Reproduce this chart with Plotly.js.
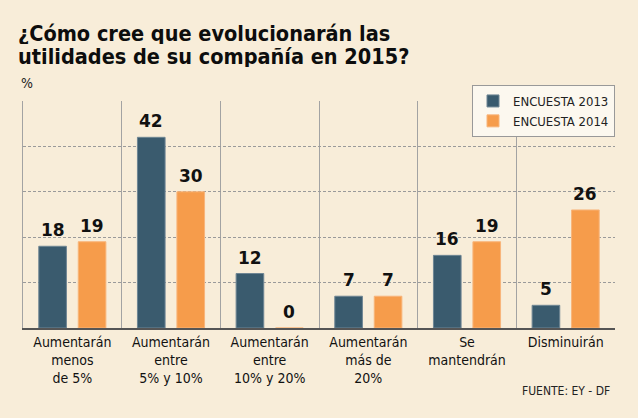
<!DOCTYPE html>
<html>
<head>
<meta charset="utf-8">
<script src="https://cdn.plot.ly/plotly-3.0.1.min.js"></script>
<style>
html,body{margin:0;padding:0;background:#f8edd9;}
#chart{width:638px;height:418px;}
</style>
</head>
<body>
<div id="chart"></div>
<script>
const categories = [
  "Aumentarán<br>menos<br>de 5%",
  "Aumentarán<br>entre<br>5% y 10%",
  "Aumentarán<br>entre<br>10% y 20%",
  "Aumentarán<br>más de<br>20%",
  "Se<br>mantendrán",
  "Disminuirán"
];
const encuesta2013 = [18, 42, 12, 7, 16, 5];
const encuesta2014 = [19, 30, 0, 7, 19, 26];
const seriesNames = ["ENCUESTA 2013", "ENCUESTA 2014"];
const titleLines = ["¿Cómo cree que evolucionarán las", "utilidades de su compañía en 2015?"];
const unitLabel = "%";
const sourceText = "FUENTE: EY - DF";

const W = 638, H = 418;
const M = {l: 23, r: 23, t: 101, b: 90};
const plotH = H - M.t - M.b;
const plotW = W - M.l - M.r;
const pxY = y => (H - M.b - y) / plotH;   // pixel row -> paper y
const pxX = x => (x - M.l) / plotW;       // pixel col -> paper x

const xIdx = categories.map((_, i) => i);
const catW = plotW / categories.length;
const barOffset = 0.2 * catW;
const FONT = "DejaVu Sans Condensed, DejaVu Sans";

const valueFont = {family: "DejaVu Sans", size: 17, color: "#111", weight: "bold"};
const annotations = [];
[encuesta2013, encuesta2014].forEach((vals, s) => {
  vals.forEach((v, i) => {
    annotations.push({
      x: i, y: v, xref: "x", yref: "y",
      text: "<b>" + v + "</b>", showarrow: false,
      xanchor: "center", yanchor: "bottom",
      xshift: s === 0 ? -barOffset : barOffset, yshift: 4,
      font: valueFont
    });
  });
});
titleLines.forEach((t, k) => {
  annotations.push({
    xref: "paper", yref: "paper", x: pxX(16), y: pxY(33 + 23 * k),
    xanchor: "left", yanchor: "middle", text: "<b>" + t + "</b>", showarrow: false,
    height: 22, valign: "middle",
    font: {family: FONT, size: 21.5, color: "#0d0d0d", weight: "bold"}
  });
});
annotations.push({
  xref: "paper", yref: "paper", x: pxX(19), y: pxY(93), xanchor: "left", yanchor: "bottom",
  text: unitLabel, showarrow: false, font: {family: FONT, size: 14, color: "#222"}
});
annotations.push({
  xref: "paper", yref: "paper", x: pxX(612), y: pxY(400), xanchor: "right", yanchor: "bottom",
  text: sourceText, showarrow: false, font: {family: FONT, size: 12, color: "#222"}
});

const data = [
  {type: "bar", name: seriesNames[0], x: xIdx, y: encuesta2013,
   marker: {color: "#3a5b6e", line: {color: "#6f8694", width: 1}}, hoverinfo: "none"},
  {type: "bar", name: seriesNames[1], x: xIdx, y: encuesta2014,
   marker: {color: "#f69c4b", line: {color: "#f8b57a", width: 1}}, hoverinfo: "none"}
];

const layout = {
  width: W, height: H,
  margin: M,
  paper_bgcolor: "#f8edd9", plot_bgcolor: "#f8edd9",
  barmode: "group", bargap: 0.2, bargroupgap: 0.3,
  showlegend: true,
  legend: {
    x: pxX(472), y: pxY(85), xanchor: "left", yanchor: "top",
    bgcolor: "#fcf8ef", bordercolor: "#999", borderwidth: 1,
    font: {family: FONT, size: 13, color: "#222"},
    tracegroupgap: 0, itemwidth: 30
  },
  xaxis: {
    range: [-0.5, categories.length - 0.5],
    tickvals: xIdx, ticktext: categories,
    ticks: "", showgrid: false, zeroline: false,
    showline: true, linecolor: "#555", linewidth: 2,
    tickfont: {family: FONT, size: 14, color: "#111"},
    minor: {tick0: 0.5, dtick: 1, showgrid: true, gridcolor: "#a3a3a3", gridwidth: 1, ticks: ""},
    fixedrange: true
  },
  yaxis: {
    range: [0, 50], dtick: 10, showticklabels: false, ticks: "",
    showgrid: true, gridcolor: "#9a9a9a", gridwidth: 1, griddash: "3px,2px",
    zeroline: false, showline: true, linecolor: "#a3a3a3", linewidth: 1, mirror: false,
    fixedrange: true
  },
  annotations: annotations,
  font: {family: FONT}
};

Plotly.newPlot("chart", data, layout, {staticPlot: true});
</script>
</body>
</html>
